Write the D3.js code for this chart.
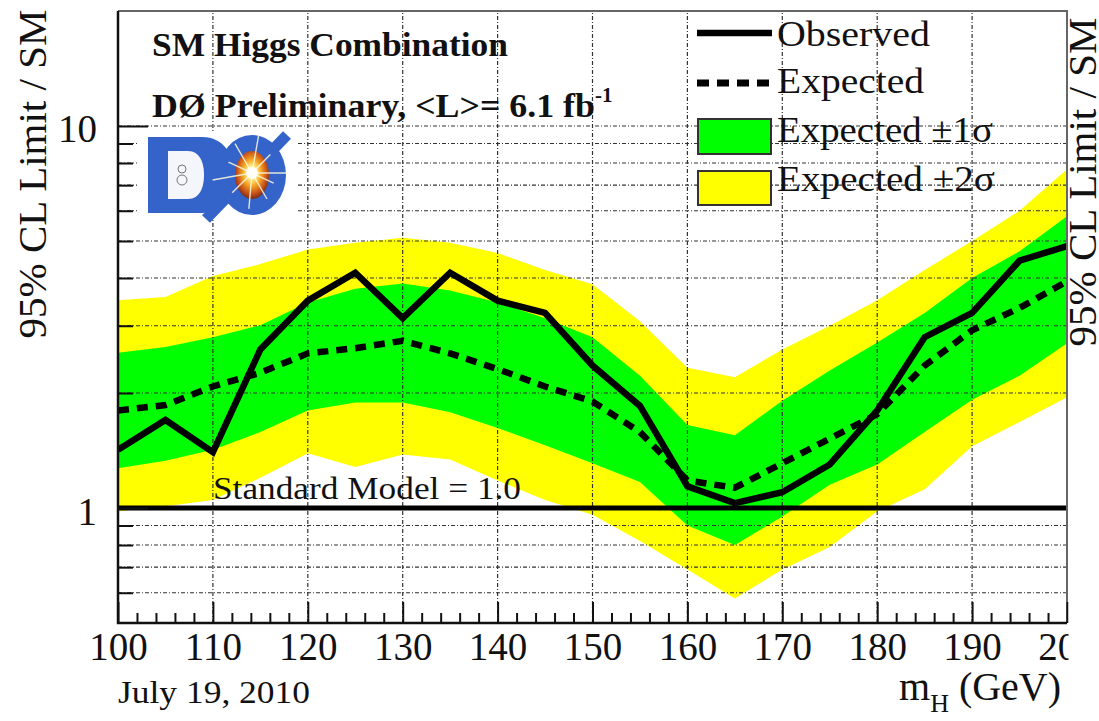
<!DOCTYPE html>
<html>
<head>
<meta charset="utf-8">
<script src="https://cdn.jsdelivr.net/npm/d3@7"></script>
<style>
  body { margin: 0; background: #fff; }
  svg { display: block; }
  text { font-family: "Liberation Serif", "Times New Roman", Times, serif; fill: #111; }
</style>
</head>
<body>
<svg id="chart" width="1099" height="721"></svg>
<script>
// Higgs mass points (GeV)
const massPoints = [100, 105, 110, 115, 120, 125, 130, 135, 140, 145, 150,
                    155, 160, 165, 170, 175, 180, 185, 190, 195, 200];
// Observed 95% CL limit / SM
const observed = [1.42, 1.70, 1.40, 2.60, 3.49, 4.13, 3.14, 4.13, 3.49, 3.24, 2.36,
                  1.85, 1.14, 1.03, 1.10, 1.30, 1.80, 2.80, 3.24, 4.44, 4.85];
// Median expected limit
const expected = [1.80, 1.86, 2.08, 2.26, 2.54, 2.62, 2.74, 2.54, 2.31, 2.08, 1.90,
                  1.58, 1.18, 1.13, 1.31, 1.52, 1.76, 2.36, 2.92, 3.34, 3.92];
// Expected +-1 sigma band
const sigma1Low  = [1.27, 1.33, 1.42, 1.58, 1.80, 1.89, 1.89, 1.78, 1.62, 1.46, 1.31,
                    1.17, 0.90, 0.80, 0.95, 1.15, 1.30, 1.58, 1.92, 2.22, 2.70];
const sigma1High = [2.55, 2.64, 2.80, 3.01, 3.45, 3.75, 3.87, 3.71, 3.45, 3.14, 2.80,
                    2.22, 1.65, 1.55, 1.91, 2.29, 2.71, 3.24, 4.00, 4.70, 5.80];
// Expected +-2 sigma band
const sigma2Low  = [0.98, 1.01, 1.05, 1.20, 1.39, 1.28, 1.38, 1.34, 1.18, 1.05, 0.96,
                    0.82, 0.69, 0.58, 0.69, 0.79, 0.98, 1.12, 1.45, 1.68, 1.95];
const sigma2High = [3.50, 3.57, 4.05, 4.35, 4.75, 4.95, 5.10, 4.95, 4.65, 4.20, 3.85,
                    3.08, 2.33, 2.20, 2.60, 3.00, 3.50, 4.20, 5.00, 6.00, 7.70];
// Standard Model reference
const smRatio = 1.0;

// Axis ticks
const xMajorTicks = [100, 110, 120, 130, 140, 150, 160, 170, 180, 190, 200];
const xMinorTicks = d3.range(102, 200, 2).filter(v => v % 10 !== 0);
const xGridTicks = [110, 120, 130, 140, 150, 160, 170, 180, 190];
const yMajorTicks = [1, 10];
const yMinorTicks = [0.6, 0.7, 0.8, 0.9, 2, 3, 4, 5, 6, 7, 8, 9];
const yGridTicks = [0.6, 0.7, 0.8, 0.9, 2, 3, 4, 5, 6, 7, 8, 9, 10];

// Legend entries
const legendLabels = ["Observed", "Expected", "Expected \u00b11\u03c3", "Expected \u00b12\u03c3"];

const W = 1099, H = 721;
const svg = d3.select("#chart");
const x = d3.scaleLinear().domain([100, 200]).range([118, 1067]);
const y = d3.scaleLog().domain([0.5, 20]).range([623, 11]);

const rows = massPoints.map((m, i) => ({
  m, obs: observed[i], exp: expected[i],
  lo1: sigma1Low[i], hi1: sigma1High[i], lo2: sigma2Low[i], hi2: sigma2High[i]
}));

svg.append("rect").attr("width", W).attr("height", H).attr("fill", "#fff");

const defs = svg.append("defs");
defs.append("clipPath").attr("id", "plotClip").append("rect")
  .attr("x", x(100)).attr("y", y(20))
  .attr("width", x(200) - x(100)).attr("height", y(0.5) - y(20));

const plot = svg.append("g").attr("clip-path", "url(#plotClip)");

// Bands
const band = (lo, hi) => d3.area().x(d => x(d.m)).y0(d => y(d[lo])).y1(d => y(d[hi]));
plot.append("path").datum(rows).attr("d", band("lo2", "hi2")).attr("fill", "#ffff00");
plot.append("path").datum(rows).attr("d", band("lo1", "hi1")).attr("fill", "#00ff00");

// Grid
const grid = plot.append("g").attr("stroke", "#333").attr("stroke-width", 1.2)
  .attr("stroke-dasharray", "4,2,1,2");
grid.selectAll(".hg").data(yGridTicks).join("line")
  .attr("x1", x(100)).attr("x2", x(200))
  .attr("y1", d => y(d)).attr("y2", d => y(d));
grid.selectAll(".vg").data(xGridTicks).join("line")
  .attr("y1", y(0.5)).attr("y2", y(20))
  .attr("x1", d => x(d)).attr("x2", d => x(d));

// Standard Model line
plot.append("line")
  .attr("x1", x(100)).attr("x2", x(200))
  .attr("y1", y(smRatio)).attr("y2", y(smRatio))
  .attr("stroke", "#000").attr("stroke-width", 5);

// Expected and observed limits
plot.append("path").datum(rows)
  .attr("d", d3.line().x(d => x(d.m)).y(d => y(d.exp)))
  .attr("fill", "none").attr("stroke", "#000").attr("stroke-width", 6.5)
  .attr("stroke-dasharray", "11,8");
plot.append("path").datum(rows)
  .attr("d", d3.line().x(d => x(d.m)).y(d => y(d.obs)))
  .attr("fill", "none").attr("stroke", "#000").attr("stroke-width", 6.5)
  .attr("stroke-linejoin", "miter");

// Frame
svg.append("path")
  .attr("d", `M${x(100)},${y(20)} H${x(200)} V${y(0.5)}`)
  .attr("fill", "none").attr("stroke", "#666").attr("stroke-width", 2);
svg.append("path")
  .attr("d", `M${x(100)},${y(20)} V${y(0.5)} H${x(200)}`)
  .attr("fill", "none").attr("stroke", "#111").attr("stroke-width", 2.5);

// Axes
function styleAxis(g) {
  g.select(".domain").remove();
  g.selectAll(".tick line").attr("stroke", "#111").attr("stroke-width", 2);
  g.selectAll(".tick text").attr("font-family", '"Liberation Serif", serif')
    .attr("font-size", 39).attr("fill", "#111");
}
svg.append("g").attr("transform", `translate(0,${y(0.5)})`)
  .call(d3.axisBottom(x).tickValues(xMinorTicks).tickSize(-10).tickFormat(""))
  .call(styleAxis);
svg.append("g").attr("transform", `translate(0,${y(0.5)})`)
  .call(d3.axisBottom(x).tickValues(xMajorTicks).tickSize(-21).tickPadding(9)
    .tickFormat(d3.format("d")))
  .call(styleAxis);
svg.append("g").attr("transform", `translate(${x(100)},0)`)
  .call(d3.axisLeft(y).tickValues(yMinorTicks).tickSize(-15).tickFormat(""))
  .call(styleAxis);
svg.append("g").attr("transform", `translate(${x(100)},0)`)
  .call(d3.axisLeft(y).tickValues(yMajorTicks).tickSize(-30).tickPadding(21)
    .tickFormat(d3.format("d")))
  .call(styleAxis)
  .call(g => g.selectAll(".tick text").attr("dy", "0.41em"));

// Axis titles and date
svg.append("text")
  .attr("transform", "translate(46,174) rotate(-90)")
  .attr("text-anchor", "middle").attr("font-size", 41)
  .text("95% CL Limit / SM");

const mh = svg.append("text").attr("x", 899).attr("y", 700).attr("font-size", 40);
mh.append("tspan").text("m");
mh.append("tspan").attr("font-size", 26).attr("dy", 12).text("H");
mh.append("tspan").attr("dy", -12).text(" (GeV)");

svg.append("text").attr("x", 118).attr("y", 703).attr("font-size", 31)
  .attr("textLength", 192).attr("lengthAdjust", "spacingAndGlyphs")
  .text("July 19, 2010");

// Standard Model label
svg.append("text").attr("x", 213).attr("y", 499).attr("font-size", 31)
  .attr("textLength", 308).attr("lengthAdjust", "spacingAndGlyphs")
  .text("Standard Model = 1.0");

// Titles
svg.append("text").attr("x", 152).attr("y", 56).attr("font-size", 34)
  .attr("font-weight", "bold")
  .attr("textLength", 356).attr("lengthAdjust", "spacingAndGlyphs")
  .text("SM Higgs Combination");
const t2 = svg.append("text").attr("x", 152).attr("y", 117).attr("font-size", 34)
  .attr("font-weight", "bold");
t2.append("tspan").attr("textLength", 443).attr("lengthAdjust", "spacingAndGlyphs")
  .text("D\u00d8 Preliminary, <L>= 6.1 fb");
t2.append("tspan").attr("font-size", 21).attr("dy", -15).text("-1");

// Legend
const lg = svg.append("g");
const legendRows = [
  { kind: "solid", ymid: 33, base: 46 },
  { kind: "dash", ymid: 83, base: 93 },
  { kind: "box", fill: "#00ff00", y0: 119, y1: 154, base: 142 },
  { kind: "box", fill: "#ffff00", y0: 171, y1: 205, base: 191 }
];
const legendWidths = [153, 147, 216, 218];
legendRows.forEach((r, i) => {
  if (r.kind === "solid") {
    lg.append("line").attr("x1", 697).attr("x2", 772).attr("y1", r.ymid).attr("y2", r.ymid)
      .attr("stroke", "#000").attr("stroke-width", 6.5);
  } else if (r.kind === "dash") {
    lg.append("line").attr("x1", 697).attr("x2", 772).attr("y1", r.ymid).attr("y2", r.ymid)
      .attr("stroke", "#000").attr("stroke-width", 7).attr("stroke-dasharray", "12,8");
  } else {
    lg.append("rect").attr("x", 698).attr("y", r.y0).attr("width", 73).attr("height", r.y1 - r.y0)
      .attr("fill", r.fill).attr("stroke", "#333").attr("stroke-width", 2);
  }
  lg.append("text").attr("x", 777).attr("y", r.base).attr("font-size", 35)
    .attr("textLength", legendWidths[i]).attr("lengthAdjust", "spacingAndGlyphs")
    .text(legendLabels[i]);
});

// Experiment logo
svg.append("rect").attr("x", 137).attr("y", 131).attr("width", 160).attr("height", 87).attr("fill", "#fff");
const grad = defs.append("radialGradient").attr("id", "burst")
  .attr("cx", "50%").attr("cy", "45%").attr("r", "55%");
[["0%", "#ffffff"], ["22%", "#fff59a"], ["50%", "#f5a623"], ["80%", "#c8501a"], ["100%", "#7c2d12"]]
  .forEach(([o, c]) => grad.append("stop").attr("offset", o).attr("stop-color", c));
const logo = svg.append("g").attr("transform", "translate(148,135)");
const blue = "#3463c9";
logo.append("path").attr("d", "M0,2 H54 C76,2 86,20 86,40 C86,60 76,78 54,78 H0 Z").attr("fill", blue);
logo.append("path").attr("d", "M20,16 H40 C52,16 56,28 56,40 C56,52 52,64 40,64 H20 Z").attr("fill", "#f4f6fb");
logo.append("circle").attr("cx", 34).attr("cy", 34).attr("r", 4).attr("fill", "none").attr("stroke", "#777").attr("stroke-width", 1);
logo.append("circle").attr("cx", 34).attr("cy", 45).attr("r", 5).attr("fill", "none").attr("stroke", "#777").attr("stroke-width", 1);
logo.append("line").attr("x1", 58).attr("y1", 84).attr("x2", 139).attr("y2", 0)
  .attr("stroke", blue).attr("stroke-width", 11);
logo.append("ellipse").attr("cx", 104).attr("cy", 40).attr("rx", 34).attr("ry", 40).attr("fill", blue);
logo.append("ellipse").attr("cx", 104).attr("cy", 40).attr("rx", 17).attr("ry", 24).attr("fill", "url(#burst)");
const rays = [[0, 38], [25, 24], [60, 30], [95, 36], [135, 28], [170, 40], [205, 26], [240, 34], [280, 40], [315, 26]];
rays.forEach(([a, len]) => {
  const r = a * Math.PI / 180;
  logo.append("line").attr("x1", 104).attr("y1", 38)
    .attr("x2", 104 + len * Math.cos(r)).attr("y2", 38 + len * Math.sin(r))
    .attr("stroke", "#fffbe0").attr("stroke-width", 1.4).attr("opacity", 0.85);
});
logo.append("circle").attr("cx", 104).attr("cy", 38).attr("r", 6).attr("fill", "#fff").attr("opacity", 0.9);

// Right margin and neighbouring axis label
svg.append("rect").attr("x", 1068.5).attr("y", 0).attr("width", W - 1068.5).attr("height", H).attr("fill", "#fff");
svg.append("text")
  .attr("transform", "translate(1096,182) rotate(-90)")
  .attr("text-anchor", "middle").attr("font-size", 41)
  .text("95% CL Limit / SM");
</script>
</body>
</html>
